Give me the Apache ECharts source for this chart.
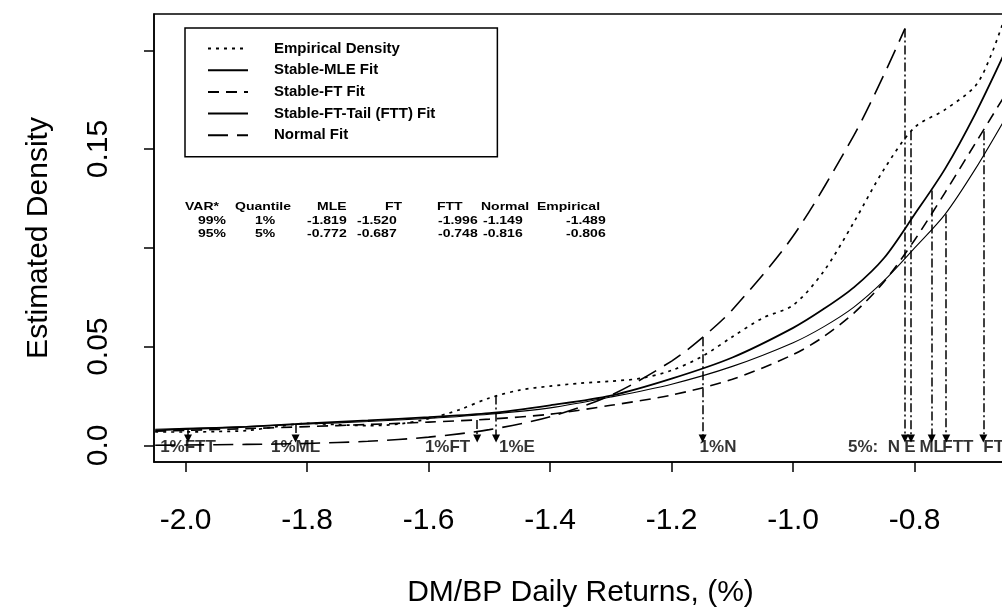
<!DOCTYPE html>
<html>
<head>
<meta charset="utf-8">
<script src="https://cdn.jsdelivr.net/npm/echarts@6/dist/echarts.min.js"></script>
<style>
  html, body { margin: 0; padding: 0; background: #fff; }
  #chart { width: 1002px; height: 608px; }
</style>
</head>
<body>
<div id="chart"></div>
<script>
// Return grid (%) used by the three stable fits
const returnGrid = [-2.05, -2.0, -1.9, -1.8, -1.7, -1.6, -1.5, -1.4, -1.3, -1.2, -1.1, -1.0, -0.95, -0.9, -0.85, -0.8, -0.75, -0.7, -0.65];
const stableMleFit = [0.0076, 0.0082, 0.0094, 0.0112, 0.0127, 0.0143, 0.0163, 0.0203, 0.0252, 0.0338, 0.0445, 0.0595, 0.0690, 0.0800, 0.0950, 0.1170, 0.1400, 0.1680, 0.2000];
const stableFtFit = [0.0072, 0.0076, 0.0085, 0.0095, 0.0106, 0.0118, 0.0133, 0.0158, 0.0203, 0.0255, 0.0335, 0.0460, 0.0550, 0.0670, 0.0830, 0.1040, 0.1280, 0.1530, 0.1780];
const stableFttFit = [0.0082, 0.0086, 0.0096, 0.0108, 0.0121, 0.0137, 0.0158, 0.0190, 0.0245, 0.0310, 0.0400, 0.0520, 0.0600, 0.0700, 0.0835, 0.1000, 0.1170, 0.1400, 0.1660];

// Normal fit
const normalGrid = [-2.05, -2.0, -1.9, -1.8, -1.7, -1.6, -1.5, -1.4, -1.3, -1.2, -1.149, -1.1, -1.0, -0.9, -0.85, -0.816];
const normalFit = [0.0001, 0.0002, 0.0005, 0.0010, 0.0021, 0.0042, 0.0080, 0.0145, 0.0254, 0.0427, 0.0547, 0.0687, 0.1060, 0.1570, 0.1880, 0.2110];

// Empirical (kernel) density
const empiricalGrid = [-2.05, -2.0, -1.95, -1.9, -1.85, -1.8, -1.75, -1.7, -1.65, -1.6, -1.55, -1.5, -1.45, -1.4, -1.35, -1.3, -1.25, -1.2, -1.15, -1.1, -1.05, -1.0, -0.95, -0.9, -0.85, -0.8, -0.75, -0.7, -0.675, -0.65];
const empiricalDensity = [0.0068, 0.0068, 0.0070, 0.0075, 0.0095, 0.0112, 0.0105, 0.0100, 0.0108, 0.0135, 0.0180, 0.0240, 0.0280, 0.0300, 0.0315, 0.0325, 0.0340, 0.0380, 0.0450, 0.0550, 0.0645, 0.0710, 0.0880, 0.1130, 0.1400, 0.1610, 0.1700, 0.1820, 0.1970, 0.2180];

// VaR table: 1% and 5% quantiles of each fit
const varLevels = ['99%', '95%'];
const quantileLevels = ['1%', '5%'];
const mleQuantiles = [-1.819, -0.772];
const ftQuantiles = [-1.520, -0.687];
const fttQuantiles = [-1.996, -0.748];
const normalQuantiles = [-1.149, -0.816];
const empiricalQuantiles = [-1.489, -0.806];

// Density height where each quantile marker starts
const mleAtQuantile = [0.0109, 0.129];
const ftAtQuantile = [0.0128, 0.159];
const fttAtQuantile = [0.0086, 0.117];
const normalAtQuantile = [0.0547, 0.211];
const empiricalAtQuantile = [0.0253, 0.159];

// Axis ticks
const xTicks = [-2.0, -1.8, -1.6, -1.4, -1.2, -1.0, -0.8];
const yTicks = [0, 0.05, 0.10, 0.15, 0.20];
const yTickLabels = [0, 0.05, 0.15];

const FONT = '"Liberation Sans", Arial, Helvetica, sans-serif';
const BLACK = '#000';

const pairs = (xs, ys) => xs.map((x, i) => [x, ys[i]]);

// Quantile markers: tag shown under the arrow, and how the tag sits on the marker
const markerDefs = [
  { key: 'mle', tag: 'ML', q: mleQuantiles, top: mleAtQuantile },
  { key: 'ft', tag: 'FT', q: ftQuantiles, top: ftAtQuantile },
  { key: 'ftt', tag: 'FTT', q: fttQuantiles, top: fttAtQuantile },
  { key: 'normal', tag: 'N', q: normalQuantiles, top: normalAtQuantile },
  { key: 'empirical', tag: 'E', q: empiricalQuantiles, top: empiricalAtQuantile }
];
const tagPlacement = [
  { mle: ['center', 0], ft: ['right', -7], ftt: ['center', 0], normal: ['left', -3], empirical: ['left', 3] },
  { mle: ['center', 0], ft: ['left', 0], ftt: ['left', -4], normal: ['right', -5], empirical: ['center', -1] }
];
const ARROW_END = 0.0035;
const TAG_LEVEL = -0.0008;

const markerLines = [];
const markerTags = [];
[0, 1].forEach(level => {
  markerDefs.forEach(m => {
    markerLines.push({ coords: [[m.q[level], m.top[level]], [m.q[level], ARROW_END]] });
    const place = tagPlacement[level][m.key];
    let text = level === 0 ? quantileLevels[0] + m.tag : m.tag;
    if (level === 1 && m.key === 'normal') text = quantileLevels[1] + ':  ' + m.tag;
    markerTags.push({
      value: [m.q[level], TAG_LEVEL],
      name: text,
      label: { align: place[0], offset: [place[1], 0] }
    });
  });
});

// Table of VaR quantiles drawn inside the plot
const tableHeader = ['VAR*', 'Quantile', 'MLE', 'FT', 'FTT', 'Normal', 'Empirical'];
const headerLeft = [185, 235, 317, 385, 437, 481, 537];
const cellLeft = [198, 255, 307, 357, 438, 483, 566];
const rowTop = [207, 220.5, 234];
const tableFont = 'bold 14px ' + FONT;
const tableGraphics = [];
const tableText = (x, y, text) => ({
  type: 'text', x, y, scaleY: 0.82,
  style: { text, font: tableFont, fill: BLACK, verticalAlign: 'middle' }
});
tableHeader.forEach((h, i) => tableGraphics.push(tableText(headerLeft[i], rowTop[0], h)));
[0, 1].forEach(r => {
  const cells = [varLevels[r], quantileLevels[r], mleQuantiles[r], ftQuantiles[r], fttQuantiles[r], normalQuantiles[r], empiricalQuantiles[r]]
    .map(v => typeof v === 'number' ? v.toFixed(3) : v);
  cells.forEach((c, i) => tableGraphics.push(tableText(cellLeft[i], rowTop[r + 1], c)));
});

const chart = echarts.init(document.getElementById('chart'), null, { renderer: 'canvas' });

const fitLine = (name, data, lineStyle) => ({
  name, type: 'line', data, symbol: 'none', smooth: 0.3, clip: true,
  lineStyle: Object.assign({ color: BLACK }, lineStyle),
  itemStyle: { color: BLACK }, z: 3
});

chart.setOption({
  animation: false,
  backgroundColor: '#fff',
  textStyle: { fontFamily: FONT, color: BLACK },
  grid: {
    left: 154, top: 14, width: 853, height: 448,
    show: true, borderColor: BLACK, borderWidth: 1.5, backgroundColor: 'transparent',
    containLabel: false, outerBoundsMode: 'none'
  },
  legend: {
    data: ['Empirical Density', 'Stable-MLE Fit', 'Stable-FT Fit', 'Stable-FT-Tail (FTT) Fit', 'Normal Fit'],
    orient: 'vertical', left: 185, top: 28,
    backgroundColor: '#fff', borderColor: BLACK, borderWidth: 1.5, borderRadius: 0,
    padding: [13, 62, 14, 22],
    itemWidth: 40, itemHeight: 12, itemGap: 6.7,
    itemStyle: { color: 'rgba(0,0,0,0)', borderWidth: 0, opacity: 0 },
    textStyle: { fontFamily: FONT, fontWeight: 'bold', fontSize: 15, color: BLACK, padding: [0, 0, 0, 21] },
    selectedMode: false
  },
  xAxis: {
    type: 'value', min: -2.052, max: -0.648,
    name: 'DM/BP Daily Returns, (%)', nameLocation: 'middle', nameGap: 116,
    nameTextStyle: { fontFamily: FONT, fontSize: 30, color: BLACK },
    axisLine: { show: true, onZero: false, lineStyle: { color: BLACK, width: 1.5 } },
    axisTick: { show: true, inside: false, length: 10, customValues: xTicks, lineStyle: { color: BLACK, width: 1.5 } },
    axisLabel: { customValues: xTicks, margin: 44, fontSize: 30, color: BLACK, fontFamily: FONT,
      formatter: v => v.toFixed(1) },
    splitLine: { show: false }
  },
  yAxis: {
    type: 'value', min: -0.0084, max: 0.2184,
    name: 'Estimated Density', nameLocation: 'middle', nameGap: 100, nameRotate: 90,
    nameTextStyle: { fontFamily: FONT, fontSize: 30, color: BLACK },
    axisLine: { show: true, onZero: false, lineStyle: { color: BLACK, width: 1.5 } },
    axisTick: { show: true, inside: false, length: 10, customValues: yTicks, lineStyle: { color: BLACK, width: 1.5 } },
    axisLabel: { customValues: yTickLabels, rotate: 90, margin: 40, fontSize: 30, color: BLACK, fontFamily: FONT,
      formatter: v => (v === 0 ? '0.0' : String(v)) },
    splitLine: { show: false }
  },
  graphic: tableGraphics,
  series: [
    fitLine('Empirical Density', pairs(empiricalGrid, empiricalDensity), { width: 1.7, type: [3, 5] }),
    fitLine('Stable-MLE Fit', pairs(returnGrid, stableMleFit), { width: 1.8, type: 'solid' }),
    fitLine('Stable-FT Fit', pairs(returnGrid, stableFtFit), { width: 1.6, type: [11, 7] }),
    fitLine('Stable-FT-Tail (FTT) Fit', pairs(returnGrid, stableFttFit), { width: 1.1, type: 'solid' }),
    fitLine('Normal Fit', pairs(normalGrid, normalFit), { width: 1.6, type: [20, 9] }),
    {
      name: 'quantile markers', type: 'lines', coordinateSystem: 'cartesian2d',
      data: markerLines, symbol: ['none', 'triangle'], symbolSize: 8,
      lineStyle: { color: BLACK, width: 1.5, type: [9, 3, 2, 3], opacity: 1 },
      z: 4, silent: true
    },
    {
      name: 'quantile tags', type: 'scatter', data: markerTags,
      symbolSize: 1, itemStyle: { color: 'rgba(0,0,0,0)' },
      label: { show: true, position: 'inside', formatter: p => p.name,
        fontFamily: FONT, fontWeight: 'bold', fontSize: 17, color: BLACK, verticalAlign: 'middle' },
      z: 5, silent: true
    }
  ]
});
</script>
</body>
</html>
